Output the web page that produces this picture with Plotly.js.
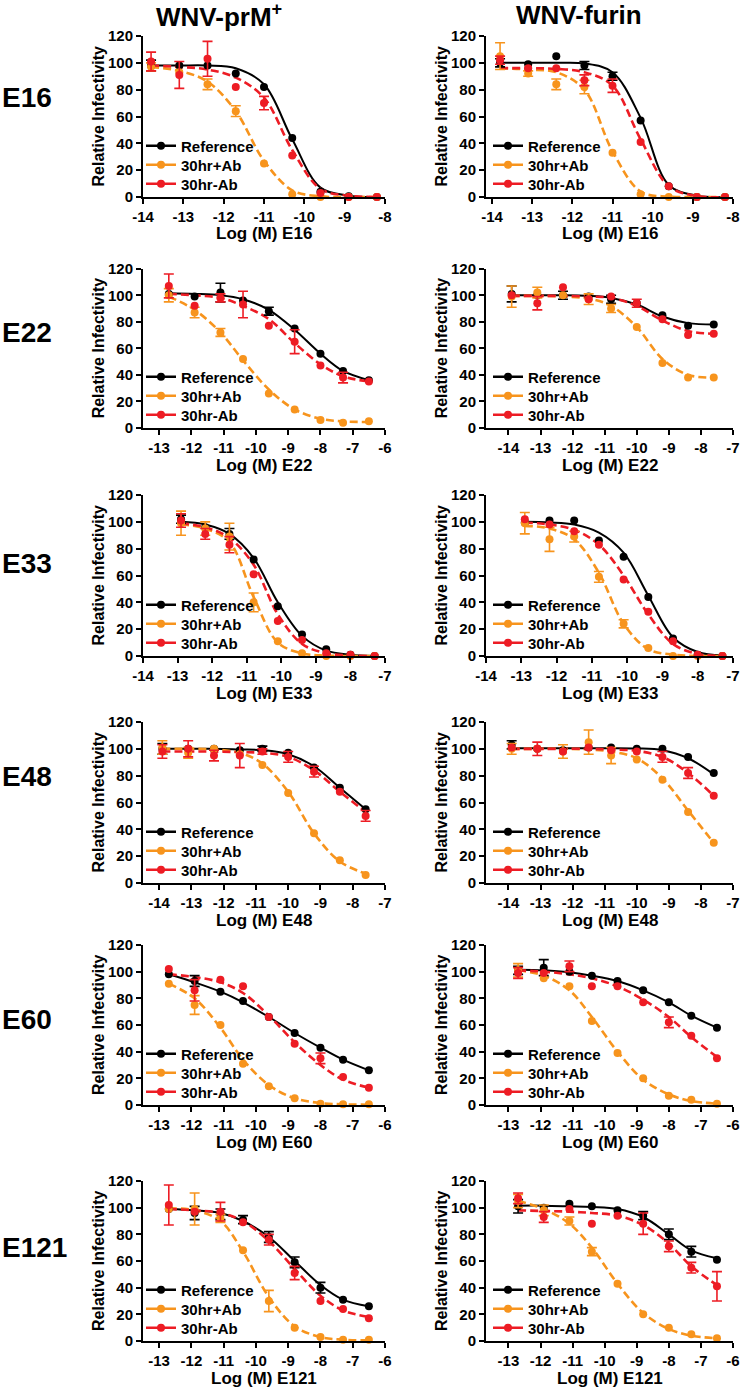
<!DOCTYPE html>
<html><head><meta charset="utf-8">
<script src="https://cdn.plot.ly/plotly-3.0.1.min.js"></script>
<style>html,body{margin:0;padding:0;background:#fff}#chart{width:742px;height:1388px}</style>
</head><body><div id="chart"></div>
<script>
// ---------------- DATA ----------------
const seriesNames = ['Reference', '30hr+Ab', '30hr-Ab'];
const columnTitles = ['WNV-prM<sup>+</sup>', 'WNV-furin'];
const antibodies = ['E16', 'E22', 'E33', 'E48', 'E60', 'E121'];
const yTickVals = [0, 20, 40, 60, 80, 100, 120];
const yTickText = ['0', '20', '40', '60', '80', '100', '120'];
const xTicks14to8 = [-14, -13, -12, -11, -10, -9, -8];
const xTicks14to8Text = ['-14', '-13', '-12', '-11', '-10', '-9', '-8'];
const xTicks14to7 = [-14, -13, -12, -11, -10, -9, -8, -7];
const xTicks14to7Text = ['-14', '-13', '-12', '-11', '-10', '-9', '-8', '-7'];
const xTicks13to6 = [-13, -12, -11, -10, -9, -8, -7, -6];
const xTicks13to6Text = ['-13', '-12', '-11', '-10', '-9', '-8', '-7', '-6'];

// E16
const E16_x = [-13.8, -13.1, -12.4, -11.7, -11.0, -10.3, -9.6, -8.9, -8.2];
const E16_prM_ref = [98, 98, 98, 92, 82, 44, 4, 0.5, 0];
const E16_prM_refErr = [4, null, null, null, null, null, null, null, null];
const E16_prM_refFit = [98, 98, 98, 96, 84, 43, 7, 1, 0];
const E16_prM_plus = [97, 93, 84, 64, 25, 2, 0, 0, 0];
const E16_prM_plusErr = [3, null, 4, 4, null, null, null, null, null];
const E16_prM_plusFit = [97, 94, 86, 64, 27, 5, 0.5, 0, 0];
const E16_prM_minus = [101, 91, 103, 82, 70, 31, 3, 0, 0];
const E16_prM_minusErr = [7, 10, 13, null, 5, null, null, null, null];
const E16_prM_minusFit = [98, 97, 95, 89, 74, 35, 6, 1, 0];
const E16_fur_ref = [100, 99, 105, 98, 90, 57, 8, 0, 0];
const E16_fur_refErr = [3, null, null, 3, 3, null, null, null, null];
const E16_fur_refFit = [100, 100, 100, 99.5, 93, 59, 9, 1, 0];
const E16_fur_plus = [105, 92, 84, 82, 33, 2, 0, 0, 0];
const E16_fur_plusErr = [10, 2, 4, 5, null, null, null, null, null];
const E16_fur_plusFit = [96, 95, 93, 80, 34, 4, 0.3, 0, 0];
const E16_fur_minus = [102, 96, 96, 87, 83, 41, 8, 0, 0];
const E16_fur_minusErr = [3, null, null, 4, 5, null, null, null, null];
const E16_fur_minusFit = [96, 96, 95.5, 93, 83, 43, 8, 0.7, 0];

// E22
const E22_prM_x = [-12.7, -11.9, -11.1, -10.4, -9.6, -8.8, -8.0, -7.3, -6.5];
const E22_prM_ref = [101, 99, 102, 96, 88, 75, 56, 43, 36];
const E22_prM_refErr = [null, null, 7, null, 3, null, null, null, null];
const E22_prM_refFit = [101.5, 101, 100, 97, 89, 74, 56, 43, 36];
const E22_prM_plus = [100, 87, 72, 52, 26, 14, 6, 4, 5];
const E22_prM_plusErr = [5, 4, 3, null, null, null, null, null, null];
const E22_prM_plusFit = [99, 89, 72, 51, 29, 14, 7, 5, 4.5];
const E22_prM_minus = [107, 92, 98, 93, 77, 65, 47, 38, 35];
const E22_prM_minusErr = [9, null, 3, 10, null, 9, null, 4, null];
const E22_prM_minusFit = [101, 100, 98, 92, 82, 64, 48, 39, 35];
const E22_fur_x = [-13.9, -13.1, -12.3, -11.5, -10.8, -10.0, -9.2, -8.4, -7.6];
const E22_fur_ref = [101, 100, 100, 99, 97, 94, 85, 77, 78];
const E22_fur_refErr = [6, null, 3, null, 3, null, null, null, null];
const E22_fur_refFit = [100, 100, 100, 99.5, 98, 93, 84, 79, 78];
const E22_fur_plus = [99, 102, 100, 97, 90, 76, 49, 38, 38];
const E22_fur_plusErr = [8, 4, null, 4, 3, null, null, null, null];
const E22_fur_plusFit = [99.5, 99.5, 99, 97.5, 92, 76, 52, 40, 38];
const E22_fur_minus = [100, 94, 106, 97, 99, 94, 82, 70, 71];
const E22_fur_minusErr = [null, 5, null, null, null, 3, null, null, null];
const E22_fur_minusFit = [99.5, 99.5, 99.5, 99, 98, 92, 81, 73, 71];

// E33
const E33_x = [-12.9, -12.2, -11.5, -10.8, -10.1, -9.4, -8.7, -8.0, -7.3];
const E33_prM_ref = [102, 96, 91, 72, 37, 16, 5, 1, 0];
const E33_prM_refErr = [3, null, 4, null, null, null, null, null, null];
const E33_prM_refFit = [100, 98, 91, 73, 40, 15, 4, 1, 0];
const E33_prM_plus = [99, 95, 89, 40, 11, 2, 0, 0, 0];
const E33_prM_plusErr = [9, 5, 10, 7, null, null, null, null, null];
const E33_prM_plusFit = [98, 95, 85, 44, 10, 2, 0.3, 0, 0];
const E33_prM_minus = [101, 91, 83, 61, 26, 12, 2, 1, 0];
const E33_prM_minusErr = [5, 4, 6, null, null, null, null, null, null];
const E33_prM_minusFit = [99, 96, 88, 68, 31, 9, 2, 0.4, 0];
const E33_fur_ref = [99.5, 101, 101, 86, 74, 44, 13, 1, 0];
const E33_fur_refErr = [null, null, null, null, null, null, null, null, null];
const E33_fur_refFit = [100, 99.5, 98, 92, 77, 45, 14, 3, 0.5];
const E33_fur_plus = [99, 87, 89, 59, 24, 6, 0, 0, 0];
const E33_fur_plusErr = [8, 9, 4, 4, 3, null, null, null, null];
const E33_fur_plusFit = [97, 95, 87, 62, 24, 5, 1, 0, 0];
const E33_fur_minus = [102, 98, 93, 83, 57, 33, 11, 1, 0];
const E33_fur_minusErr = [null, null, null, null, null, null, null, null, null];
const E33_fur_minusFit = [99.5, 98, 94, 83, 60, 31, 9, 1.5, 0.2];

// E48
const E48_x = [-13.9, -13.1, -12.3, -11.5, -10.8, -10.0, -9.2, -8.4, -7.6];
const E48_prM_ref = [100, 100, 100, 99, 100, 97, 86, 71, 55];
const E48_prM_refErr = [4, null, null, null, 2, null, null, null, null];
const E48_prM_refFit = [100, 100, 100, 99.5, 99, 96, 87, 71, 55];
const E48_prM_plus = [101, 97, 100, 96, 88, 67, 37, 17, 6];
const E48_prM_plusErr = [5, 4, null, null, null, null, null, null, null];
const E48_prM_plusFit = [100, 100, 99.5, 97, 89, 68, 37, 16, 7];
const E48_prM_minus = [98, 100, 95, 95, 98, 94, 83, 68, 50];
const E48_prM_minusErr = [5, 6, 4, 9, 2, 4, 4, null, 4];
const E48_prM_minusFit = [98, 98, 98, 97.5, 97, 94, 84, 68, 53];
const E48_fur_ref = [103, 100, 99, 101, 101, 100, 100, 94, 82];
const E48_fur_refErr = [3, null, null, null, null, null, null, null, null];
const E48_fur_refFit = [100.5, 100.5, 100.5, 100.5, 100.5, 100.3, 99, 93, 81];
const E48_fur_plus = [100, 100, 98, 105, 95, 92, 77, 53, 30];
const E48_fur_plusErr = [4, null, 5, 9, 6, null, null, null, null];
const E48_fur_plusFit = [100, 100, 100, 99.5, 98, 93, 78, 54, 30];
const E48_fur_minus = [101, 100, 98, 101, 99, 98, 94, 82, 65];
const E48_fur_minusErr = [null, 5, null, null, null, null, 4, 4, null];
const E48_fur_minusFit = [100, 100, 100, 100, 99.5, 98.5, 94, 82, 65];

// E60
const E60_x = [-12.7, -11.9, -11.1, -10.4, -9.6, -8.8, -8.0, -7.3, -6.5];
const E60_prM_ref = [98, 93, 85, 78, 66, 54, 43, 34, 26];
const E60_prM_refErr = [null, 4, null, null, null, null, null, null, null];
const E60_prM_refFit = [98, 92, 85, 77, 66, 54, 43, 34, 26];
const E60_prM_plus = [91, 75, 60, 31, 14, 5, 1, 0.5, 0.5];
const E60_prM_plusErr = [null, 7, null, null, null, null, null, null, null];
const E60_prM_plusFit = [91, 80, 58, 34, 15, 5, 1.5, 0.5, 0.2];
const E60_prM_minus = [102, 86, 94, 89, 66, 46, 35, 21, 13];
const E60_prM_minusErr = [null, 8, null, null, null, null, 4, null, null];
const E60_prM_minusFit = [98, 96, 92, 84, 67, 47, 30, 19, 13];
const E60_fur_ref = [101, 103, 100, 97, 93, 86, 77, 67, 58];
const E60_fur_refErr = [3, 6, null, null, null, null, null, null, null];
const E60_fur_refFit = [101.5, 101, 99.5, 97, 93, 86, 77, 67, 58];
const E60_fur_plus = [101, 95, 89, 63, 39, 20, 7, 4, 1];
const E60_fur_plusErr = [5, null, null, null, null, null, null, null, null];
const E60_fur_plusFit = [101, 97, 86, 66, 40, 19, 8, 3, 1];
const E60_fur_minus = [99, 99, 104, 89, 89, 77, 62, 52, 35];
const E60_fur_minusErr = [4, null, 4, null, null, null, 4, null, null];
const E60_fur_minusFit = [101, 100, 98, 95, 89, 79, 66, 51, 36];

// E121
const E121_x = [-12.7, -11.9, -11.1, -10.4, -9.6, -8.8, -8.0, -7.3, -6.5];
const E121_prM_ref = [99, 96, 95, 91, 78, 59, 40, 31, 26];
const E121_prM_refErr = [null, 5, 4, 3, 4, 4, 4, null, null];
const E121_prM_refFit = [99, 98, 96, 90, 78, 60, 42, 31, 26];
const E121_prM_plus = [99, 99, 92, 68, 30, 10, 3, 1, 1];
const E121_prM_plusErr = [null, 12, 3, null, 8, null, null, null, null];
const E121_prM_plusFit = [99.5, 98, 90, 67, 33, 11, 3, 1, 0.5];
const E121_prM_minus = [102, 97, 97, 89, 76, 51, 30, 24, 17];
const E121_prM_minusErr = [15, null, 7, null, 4, 5, null, null, null];
const E121_prM_minusFit = [99, 98, 96, 90, 75, 54, 34, 23, 18];
const E121_fur_ref = [101, 100, 103, 101, 98, 94, 80, 67, 61];
const E121_fur_refErr = [5, null, null, null, null, 3, 4, 4, null];
const E121_fur_refFit = [101.5, 101.5, 101, 100.5, 99, 93, 80, 68, 62];
const E121_fur_plus = [105, 98, 90, 67, 43, 20, 10, 5, 2];
const E121_fur_plusErr = [5, 4, 3, 3, null, null, null, null, null];
const E121_fur_plusFit = [105, 99, 88, 70, 43, 21, 9, 4, 2];
const E121_fur_minus = [107, 93, 99, 88, 94, 88, 71, 55, 41];
const E121_fur_minusErr = [4, 4, null, null, null, 8, 4, 4, 11];
const E121_fur_minusFit = [98, 97.5, 97, 96, 94, 87, 73, 56, 42];

// ---------------- PANEL TABLE ----------------
const panels = [
  {ab:'E16', x:E16_x, d:[[E16_prM_ref,E16_prM_refErr,E16_prM_refFit],[E16_prM_plus,E16_prM_plusErr,E16_prM_plusFit],[E16_prM_minus,E16_prM_minusErr,E16_prM_minusFit]], range:[-14,-8], tv:xTicks14to8, tt:xTicks14to8Text},
  {ab:'E16', x:E16_x, d:[[E16_fur_ref,E16_fur_refErr,E16_fur_refFit],[E16_fur_plus,E16_fur_plusErr,E16_fur_plusFit],[E16_fur_minus,E16_fur_minusErr,E16_fur_minusFit]], range:[-14.15,-8], tv:xTicks14to8, tt:xTicks14to8Text},
  {ab:'E22', x:E22_prM_x, d:[[E22_prM_ref,E22_prM_refErr,E22_prM_refFit],[E22_prM_plus,E22_prM_plusErr,E22_prM_plusFit],[E22_prM_minus,E22_prM_minusErr,E22_prM_minusFit]], range:[-13.5,-6], tv:xTicks13to6, tt:xTicks13to6Text},
  {ab:'E22', x:E22_fur_x, d:[[E22_fur_ref,E22_fur_refErr,E22_fur_refFit],[E22_fur_plus,E22_fur_plusErr,E22_fur_plusFit],[E22_fur_minus,E22_fur_minusErr,E22_fur_minusFit]], range:[-14.7,-7], tv:xTicks14to7, tt:xTicks14to7Text},
  {ab:'E33', x:E33_x, d:[[E33_prM_ref,E33_prM_refErr,E33_prM_refFit],[E33_prM_plus,E33_prM_plusErr,E33_prM_plusFit],[E33_prM_minus,E33_prM_minusErr,E33_prM_minusFit]], range:[-14,-7], tv:xTicks14to7, tt:xTicks14to7Text},
  {ab:'E33', x:E33_x, d:[[E33_fur_ref,E33_fur_refErr,E33_fur_refFit],[E33_fur_plus,E33_fur_plusErr,E33_fur_plusFit],[E33_fur_minus,E33_fur_minusErr,E33_fur_minusFit]], range:[-14,-7], tv:xTicks14to7, tt:xTicks14to7Text},
  {ab:'E48', x:E48_x, d:[[E48_prM_ref,E48_prM_refErr,E48_prM_refFit],[E48_prM_plus,E48_prM_plusErr,E48_prM_plusFit],[E48_prM_minus,E48_prM_minusErr,E48_prM_minusFit]], range:[-14.5,-7], tv:xTicks14to7, tt:xTicks14to7Text},
  {ab:'E48', x:E48_x, d:[[E48_fur_ref,E48_fur_refErr,E48_fur_refFit],[E48_fur_plus,E48_fur_plusErr,E48_fur_plusFit],[E48_fur_minus,E48_fur_minusErr,E48_fur_minusFit]], range:[-14.7,-7], tv:xTicks14to7, tt:xTicks14to7Text},
  {ab:'E60', x:E60_x, d:[[E60_prM_ref,E60_prM_refErr,E60_prM_refFit],[E60_prM_plus,E60_prM_plusErr,E60_prM_plusFit],[E60_prM_minus,E60_prM_minusErr,E60_prM_minusFit]], range:[-13.5,-6], tv:xTicks13to6, tt:xTicks13to6Text},
  {ab:'E60', x:E60_x, d:[[E60_fur_ref,E60_fur_refErr,E60_fur_refFit],[E60_fur_plus,E60_fur_plusErr,E60_fur_plusFit],[E60_fur_minus,E60_fur_minusErr,E60_fur_minusFit]], range:[-13.7,-6], tv:xTicks13to6, tt:xTicks13to6Text},
  {ab:'E121', x:E121_x, d:[[E121_prM_ref,E121_prM_refErr,E121_prM_refFit],[E121_prM_plus,E121_prM_plusErr,E121_prM_plusFit],[E121_prM_minus,E121_prM_minusErr,E121_prM_minusFit]], range:[-13.5,-6], tv:xTicks13to6, tt:xTicks13to6Text},
  {ab:'E121', x:E121_x, d:[[E121_fur_ref,E121_fur_refErr,E121_fur_refFit],[E121_fur_plus,E121_fur_plusErr,E121_fur_plusFit],[E121_fur_minus,E121_fur_minusErr,E121_fur_minusFit]], range:[-13.7,-6], tv:xTicks13to6, tt:xTicks13to6Text}
];

// ---------------- STYLE / GEOMETRY ----------------
const W = 742, H = 1388;
const FONT = 'Arial, "Liberation Sans", Helvetica, sans-serif';
const COLORS = ['#000000', '#F7941D', '#ED1C24'];
const DASH = ['solid', '8px,4px', '8px,4px'];
const LW = [2, 2.6, 2.6];
const rowY0 = [197, 428, 656, 883, 1105, 1341];    // pixel y of value 0
const rowY120 = [36, 268.7, 495, 722, 945, 1181];  // pixel y of value 120
const colX = [[143, 385], [486, 733]];
const rowLabelY = [97, 333, 563, 776, 1019, 1247];
const legendX = [141, 488];
const legendDY = [-51, -32, -13];

const px = v => v / W;
const py = v => 1 - v / H;
const tickFont = {family: FONT, size: 15, color: '#000', weight: 700};

const traces = [];
const layout = {
  width: W, height: H, margin: {l: 0, r: 0, t: 0, b: 0},
  paper_bgcolor: '#fff', plot_bgcolor: 'rgba(0,0,0,0)',
  showlegend: true, annotations: [], font: {family: FONT, color: '#000'}
};

let legendCount = 0;
panels.forEach((p, i) => {
  const r = Math.floor(i / 2), c = i % 2;
  const n = i + 1;
  const xa = n === 1 ? 'xaxis' : 'xaxis' + n;
  const ya = n === 1 ? 'yaxis' : 'yaxis' + n;
  const xr = n === 1 ? 'x' : 'x' + n;
  const yr = n === 1 ? 'y' : 'y' + n;
  layout[xa] = {
    domain: [px(colX[c][0]), px(colX[c][1])], range: p.range, anchor: yr,
    tickvals: p.tv, ticktext: p.tt, showline: true, linecolor: '#000', linewidth: 2,
    ticks: 'outside', ticklen: 5, tickwidth: 2, tickcolor: '#000',
    showgrid: false, zeroline: false, tickfont: tickFont, fixedrange: true
  };
  layout[ya] = {
    domain: [py(rowY0[r]), py(rowY120[r])], range: [0, 120], anchor: xr,
    tickvals: yTickVals, ticktext: yTickText, showline: true, linecolor: '#000', linewidth: 2,
    ticks: 'outside', ticklen: 5, tickwidth: 2, tickcolor: '#000',
    showgrid: false, zeroline: false, tickfont: tickFont, fixedrange: true
  };
  // fitted curves
  p.d.forEach((s, k) => {
    traces.push({
      type: 'scatter', mode: 'lines', x: p.x, y: s[2], xaxis: xr, yaxis: yr,
      line: {color: COLORS[k], width: LW[k], dash: DASH[k], shape: 'spline', smoothing: 1},
      showlegend: false, hoverinfo: 'skip', cliponaxis: false
    });
  });
  // data points with error bars
  p.d.forEach((s, k) => {
    traces.push({
      type: 'scatter', mode: 'markers', x: p.x, y: s[0], xaxis: xr, yaxis: yr,
      marker: {color: COLORS[k], size: 8},
      error_y: {type: 'data', array: s[1].map(v => v === null ? NaN : v), visible: true,
                color: COLORS[k], thickness: 1.6, width: 5},
      showlegend: false, cliponaxis: false, name: seriesNames[k]
    });
  });
  // legend entries (one legend per entry so spacing matches)
  seriesNames.forEach((nm, k) => {
    legendCount++;
    const lid = legendCount === 1 ? 'legend' : 'legend' + legendCount;
    layout[lid] = {
      x: px(legendX[c]), xanchor: 'left', y: py(rowY0[r] + legendDY[k]), yanchor: 'middle',
      bgcolor: 'rgba(0,0,0,0)', borderwidth: 0, font: {family: FONT, size: 15, color: '#000', weight: 700},
      itemclick: false, itemdoubleclick: false
    };
    traces.push({
      type: 'scatter', mode: 'lines+markers', x: [null], y: [null], xaxis: xr, yaxis: yr,
      name: nm, legend: lid, line: {color: COLORS[k], width: 2.6}, marker: {color: COLORS[k], size: 8},
      hoverinfo: 'skip'
    });
  });
  // axis titles
  layout.annotations.push({
    text: 'Log (M) ' + p.ab, xref: 'paper', yref: 'paper',
    x: px((colX[c][0] + colX[c][1]) / 2), y: py(rowY0[r] + 37), xanchor: 'center', yanchor: 'middle',
    showarrow: false, font: {family: FONT, size: 17, color: '#000', weight: 700}
  });
  layout.annotations.push({
    text: 'Relative Infectivity', xref: 'paper', yref: 'paper', textangle: -90,
    x: px(colX[c][0] - 45), y: py((rowY0[r] + rowY120[r]) / 2), xanchor: 'center', yanchor: 'middle',
    showarrow: false, font: {family: FONT, size: 16, color: '#000', weight: 700}
  });
  if (c === 0) {
    layout.annotations.push({
      text: p.ab, xref: 'paper', yref: 'paper', x: 0, y: py(rowLabelY[r]),
      xanchor: 'left', yanchor: 'middle', showarrow: false,
      font: {family: FONT, size: 28, color: '#000', weight: 700}
    });
  }
});

// column titles
layout.annotations.push({
  text: columnTitles[0], xref: 'paper', yref: 'paper', x: px(219), y: py(15),
  xanchor: 'center', yanchor: 'middle', showarrow: false,
  font: {family: FONT, size: 26, color: '#000', weight: 700}
});
layout.annotations.push({
  text: columnTitles[1], xref: 'paper', yref: 'paper', x: px(579), y: py(15),
  xanchor: 'center', yanchor: 'middle', showarrow: false,
  font: {family: FONT, size: 26, color: '#000', weight: 700}
});

Plotly.newPlot('chart', traces, layout, {staticPlot: true, displayModeBar: false});
</script>
</body></html>
